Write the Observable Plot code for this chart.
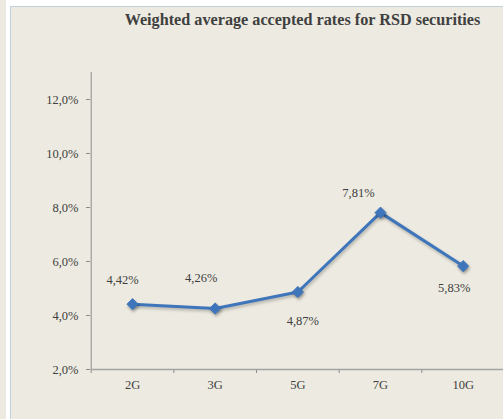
<!DOCTYPE html>
<html>
<head>
<meta charset="utf-8">
<script src="https://cdn.jsdelivr.net/npm/d3@7"></script>
<script src="https://cdn.jsdelivr.net/npm/@observablehq/plot@0.6"></script>
<style>
  html, body { margin: 0; padding: 0; background: #ffffff; }
  #wrap { position: relative; width: 503px; height: 419px; overflow: hidden; }
  #strip { position: absolute; left: 0; top: 0; width: 6px; height: 419px; background: #edebe1; }
  #panel { position: absolute; left: 10px; top: 6px; width: 520px; height: 440px; background: #edebe1; border: 1px solid #c4cfdc; }
  #title { position: absolute; left: 0; top: 12px; width: 605px; text-align: center; font: bold 16.2px/16px "Liberation Serif", "Times New Roman", serif; color: #404040; white-space: nowrap; }
  #chart { position: absolute; left: 0; top: 0; }
  #chart svg g[aria-label="dot"] path { filter: drop-shadow(1px 2px 1.5px rgba(0,0,0,0.35)); }
  #chart svg g[aria-label="line"] path { filter: drop-shadow(1px 2px 1.5px rgba(0,0,0,0.25)); }
</style>
</head>
<body>
<div id="wrap">
  <div id="strip"></div>
  <div id="panel"></div>
  <div id="title">Weighted average accepted rates for RSD securities</div>
  <div id="chart"></div>
</div>
<script>
const categories = ["2G", "3G", "5G", "7G", "10G"];
const rates = [4.42, 4.26, 4.87, 7.81, 5.83];
const yTicks = [2, 4, 6, 8, 10, 12];

// label placement (layout only)
const labelNudge = [[-10, -24], [-14, -30], [5, 29], [-22, -20], [-9, 22]];

const data = rates.map((v, i) => ({i, v, cat: categories[i]}));
const fmtPct2 = v => v.toFixed(2).replace(".", ",") + "%";
const fmtPct1 = v => v.toFixed(1).replace(".", ",") + "%";
const font = "Liberation Serif, Times New Roman, serif";

const labelMarks = labelNudge.map(([dx, dy], k) =>
  Plot.text([data[k]], {x: "i", y: "v", text: d => fmtPct2(d.v), dx, dy,
    fontSize: 12.5, fontFamily: font, fill: "#404040"}));

const chart = Plot.plot({
  width: 503,
  height: 419,
  marginLeft: 90,
  marginRight: 0,
  marginTop: 72,
  marginBottom: 50,
  style: {background: "transparent", overflow: "visible"},
  x: {domain: [-0.5, categories.length - 0.5], range: [90.7, 504], label: null},
  y: {domain: [2, 13], label: null},
  marks: [
    Plot.axisY({ticks: yTicks, tickSize: 4, text: null, stroke: "#8c8c8c", label: null}),
    Plot.axisY({ticks: yTicks, tickSize: 0, tickPadding: 12, tickFormat: fmtPct1, label: null,
      fontSize: 12.5, fontFamily: font, fill: "#404040"}),
    Plot.axisX({ticks: d3.range(categories.length).map(i => i - 0.5), tickSize: 4, text: null, stroke: "#8c8c8c", label: null}),
    Plot.axisX({ticks: d3.range(categories.length), tickSize: 0, tickPadding: 11, label: null,
      tickFormat: i => categories[i], fontSize: 12.5, fontFamily: font, fill: "#404040"}),
    Plot.ruleX([-0.5], {y1: 2, y2: 13, stroke: "#8c8c8c", strokeWidth: 1}),
    Plot.ruleY([2], {x1: -0.5, x2: categories.length - 0.5, stroke: "#a3a3a3", strokeWidth: 1.6}),
    Plot.line(data, {x: "i", y: "v", stroke: "#3e75bb", strokeWidth: 3, strokeLinejoin: "round"}),
    Plot.dot(data, {x: "i", y: "v", symbol: "diamond2", r: 5, fill: "#3e75bb", stroke: "#3e75bb", strokeWidth: 1}),
    ...labelMarks
  ]
});
document.getElementById("chart").appendChild(chart);
</script>
</body>
</html>
